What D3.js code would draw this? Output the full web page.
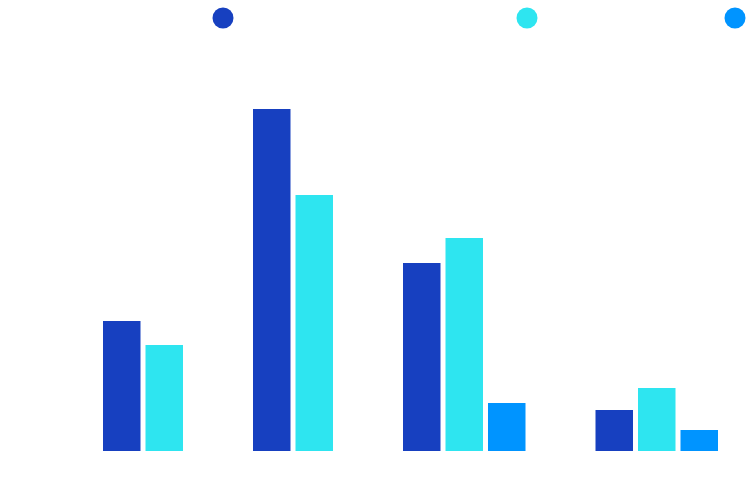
<!DOCTYPE html>
<html>
<head>
<meta charset="utf-8">
<script src="https://cdn.jsdelivr.net/npm/d3@7"></script>
<style>
  html, body { margin: 0; padding: 0; background: #fff; }
  svg { display: block; }
</style>
</head>
<body>
<div id="chart"></div>
<script>
(function(){

  var width = 746, height = 494;

  // data (arbitrary units, no axis shown)
  var categories = ["A", "B", "C", "D"];
  var series = ["s1", "s2", "s3"];
  var s1Values = [130, 342, 188, 41];
  var s2Values = [106, 256, 213, 63];
  var s3Values = [null, null, 48, 21];
  var colors = ["#1740c0", "#2ee5f0", "#0094ff"];

  var rows = categories.map(function(c, i){
    return {cat: c, values: [s1Values[i], s2Values[i], s3Values[i]]};
  });

  var svg = d3.select("#chart").append("svg")
      .attr("width", width)
      .attr("height", height);

  // group start positions (uneven spacing in the original)
  var x0 = d3.scaleOrdinal()
      .domain(categories)
      .range([103, 253, 403, 595.5]);

  var x1 = d3.scaleBand()
      .domain(series)
      .range([0, 122.5])
      .paddingInner(0.1176)
      .paddingOuter(0);

  var y = d3.scaleLinear()
      .domain([0, 350])
      .range([451, 101]);

  var color = d3.scaleOrdinal().domain(series).range(colors);

  var groups = svg.selectAll(".group")
      .data(rows)
    .enter().append("g")
      .attr("class", "group")
      .attr("transform", function(d){ return "translate(" + x0(d.cat) + ",0)"; });

  groups.selectAll("rect")
      .data(function(d){
        return d.values.map(function(v, j){ return {key: series[j], value: v}; })
          .filter(function(e){ return e.value != null; });
      })
    .enter().append("rect")
      .attr("x", function(d){ return x1(d.key); })
      .attr("width", x1.bandwidth())
      .attr("y", function(d){ return y(d.value); })
      .attr("height", function(d){ return y(0) - y(d.value); })
      .attr("fill", function(d){ return color(d.key); });

  // legend dots (no labels in the reference)
  var legendX = d3.scaleOrdinal().domain(series).range([223, 527, 735]);

  svg.selectAll(".legend-dot")
      .data(series)
    .enter().append("circle")
      .attr("class", "legend-dot")
      .attr("cx", function(d){ return legendX(d); })
      .attr("cy", 18)
      .attr("r", 10.5)
      .attr("fill", function(d){ return color(d); });

})();
</script>
</body>
</html>
